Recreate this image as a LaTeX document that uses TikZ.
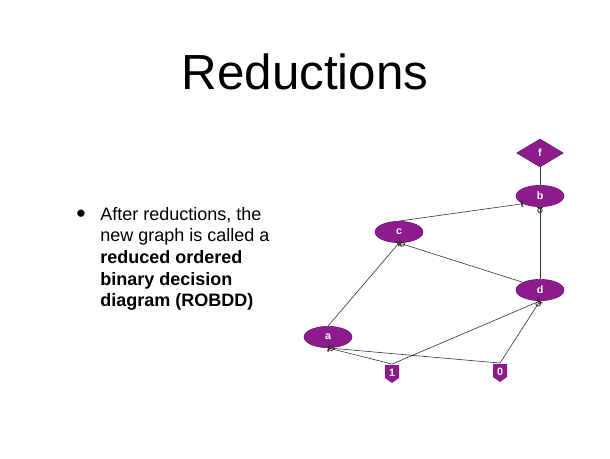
\documentclass[tikz,border=0pt]{standalone}
\usepackage{fontspec}
\setmainfont{Liberation Sans}
\setsansfont{Liberation Sans}
\usetikzlibrary{shapes.geometric,arrows.meta}
\definecolor{pur}{HTML}{8E1B8E}
\begin{document}
\begin{tikzpicture}[x=0.75pt,y=-0.75pt,
  bdd/.style={ellipse,fill=pur,draw=pur!70!black,minimum width=36pt,minimum height=16pt,inner sep=0pt,text=white,font=\sffamily\bfseries\footnotesize},
  fnode/.style={diamond,fill=pur,draw=pur!70!black,aspect=1.6,minimum width=35pt,minimum height=21pt,inner sep=0pt,text=white,font=\sffamily\bfseries\footnotesize},
  term/.style={minimum width=12pt,minimum height=13pt,inner sep=0pt,text=white,font=\sffamily\bfseries\footnotesize},
  one/.style={draw=black!80,line width=0.45pt,-{Bar[width=5pt,line width=0.6pt]Bar[width=5pt,line width=0.6pt]}},
  zero/.style={draw=black!80,line width=0.45pt,-{Circle[open,length=4pt,width=4pt,line width=0.6pt]Bar[width=5pt,line width=0.6pt]}},
  plain/.style={draw=black!80,line width=0.45pt}]
\useasboundingbox (0,0) rectangle (610,458);
\node[font=\fontsize{37}{44}\selectfont] (title) at (305,72) {Reductions};
\node[font=\fontsize{20}{20}\selectfont] (bul) at (81,216) {•};
\node[anchor=north west,align=left,inner sep=0pt,font=\fontsize{13.5}{16.2}\selectfont] (txt) at (100,207)
 {After reductions, the\\new graph is called a\\\textbf{reduced ordered}\\\textbf{binary decision}\\\textbf{diagram (ROBDD)}};
\node[fnode] (f) at (540,153) {f};
\node[bdd] (b) at (540,196) {b};
\node[bdd] (c) at (399,232) {c};
\node[bdd] (d) at (540,290) {d};
\node[bdd] (a) at (328,337) {a};
\foreach \n/\x/\y/\t in {t1/392/374/1,t0/500/373/0}{
  \fill[pur] (\x-7,\y-9) -- (\x+7,\y-9) -- (\x+7,\y+4) -- (\x,\y+9) -- (\x-7,\y+4) -- cycle;
  \node[term] (\n) at (\x,\y-1) {\t};
}
\draw[plain] (f) -- (b);
\draw[one] (c.north) -- (b.south west);
\draw[zero] (d) -- (b);
\draw[zero] (d.north west) -- (c.south);
\draw[one] (a.north) -- (c.south);
\draw[one] (t1.north) -- (a.south);
\draw[zero] (t0.north) -- (a.south);
\draw[one] (t1.north) -- (d.south);
\draw[zero] (t0.north) -- (d.south);
\end{tikzpicture}
\end{document}
